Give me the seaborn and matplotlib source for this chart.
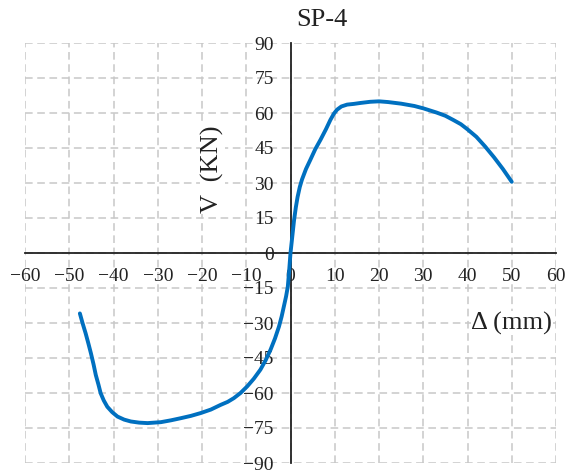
import seaborn as sns
import matplotlib.pyplot as plt
import pandas as pd

# hysteresis envelope
neg_disp = [-47.6, -47.0, -46.3, -45.7, -45.1, -44.5, -44.0, -43.4, -42.9, -42.2,
            -41.4, -40.3, -39.1, -37.6, -36.1, -34.2, -32.3, -29.3, -27.0, -24.8,
            -22.5, -20.3, -18.0, -15.8, -14.2, -12.8, -11.3, -9.8, -8.3, -6.8,
            -5.6, -4.5, -3.5, -2.6, -2.0, -1.5, -1.0, -0.6, -0.3]
neg_load = [-25.9, -30.0, -34.4, -38.6, -43.0, -47.8, -52.3, -56.4, -60.1, -63.2,
            -65.9, -68.2, -70.1, -71.4, -72.2, -72.7, -72.9, -72.5, -71.7, -70.8,
            -69.8, -68.6, -67.1, -65.1, -63.8, -62.2, -60.0, -57.2, -53.9, -50.0,
            -45.9, -41.4, -36.6, -31.5, -27.2, -22.9, -18.6, -14.3, -7.5]
pos_disp = [0.0, 0.4, 0.8, 1.2, 1.6, 2.1, 2.6, 3.5, 4.5, 5.6, 6.8, 8.0, 9.0,
            9.8, 10.5, 11.5, 12.8, 14.3, 15.8, 18.0, 20.0, 22.0, 25.0, 28.0,
            30.0, 33.0, 35.0, 36.8, 38.5, 40.0, 42.0, 44.0, 46.0, 48.0, 50.0]
pos_load = [0.0, 7.0, 14.0, 19.5, 24.0, 28.3, 31.5, 36.0, 40.0, 44.5, 48.6, 53.0,
            57.0, 59.7, 61.4, 62.8, 63.6, 63.9, 64.3, 64.8, 65.0, 64.7, 64.0,
            63.0, 62.0, 60.2, 58.8, 57.0, 55.2, 53.0, 49.8, 45.6, 41.0, 36.0, 30.5]

x_ticks = list(range(-60, 61, 10))
y_ticks = list(range(-90, 91, 15))

df = pd.DataFrame({"disp": neg_disp + pos_disp, "load": neg_load + pos_load})

sns.set_style("white")
plt.rcParams['font.family'] = ['Liberation Serif', 'DejaVu Serif']

fig = plt.figure(figsize=(5.72, 4.76), dpi=100)
ax = fig.add_axes([25 / 572, 1 - 463 / 476, 531 / 572, 420 / 476])

sns.lineplot(data=df, x="disp", y="load", sort=False, estimator=None,
             color="#0070C0", linewidth=2.8, ax=ax, zorder=3)
ax.lines[0].set_solid_joinstyle("round")
ax.lines[0].set_solid_capstyle("round")

ax.set_xlim(-60, 60)
ax.set_ylim(-90, 90)
ax.set_xticks(x_ticks)
ax.set_yticks(y_ticks)
ax.grid(True, color="#c8c8c8", linestyle=(0, (5, 3)), linewidth=1.1)

for side in ["top", "right"]:
    ax.spines[side].set_visible(False)
ax.spines["left"].set_position(("data", 0))
ax.spines["bottom"].set_position(("data", 0))
for side in ["left", "bottom"]:
    ax.spines[side].set_color("#222222")
    ax.spines[side].set_linewidth(1.3)
    ax.spines[side].set_zorder(2)

ax.tick_params(axis="both", length=0, labelsize=14, colors="#222222")
ax.tick_params(axis="y", pad=12)
ax.tick_params(axis="x", pad=11)
ax.set_xlabel("")
ax.set_ylabel("")

ax.text(50, -30, "Δ (mm)", fontsize=19, ha="center", va="center",
        color="#222222", bbox=dict(facecolor="white", edgecolor="none", pad=0.5))
ax.text(-17.6, 36, "V  (KN)", fontsize=19, ha="center", va="center",
        rotation=90, color="#222222",
        bbox=dict(facecolor="white", edgecolor="none", pad=0.5))

fig.text(322 / 572, 1 - 20 / 476, "SP-4", fontsize=19, ha="center", va="center",
         color="#222222")

plt.savefig("out.png")
